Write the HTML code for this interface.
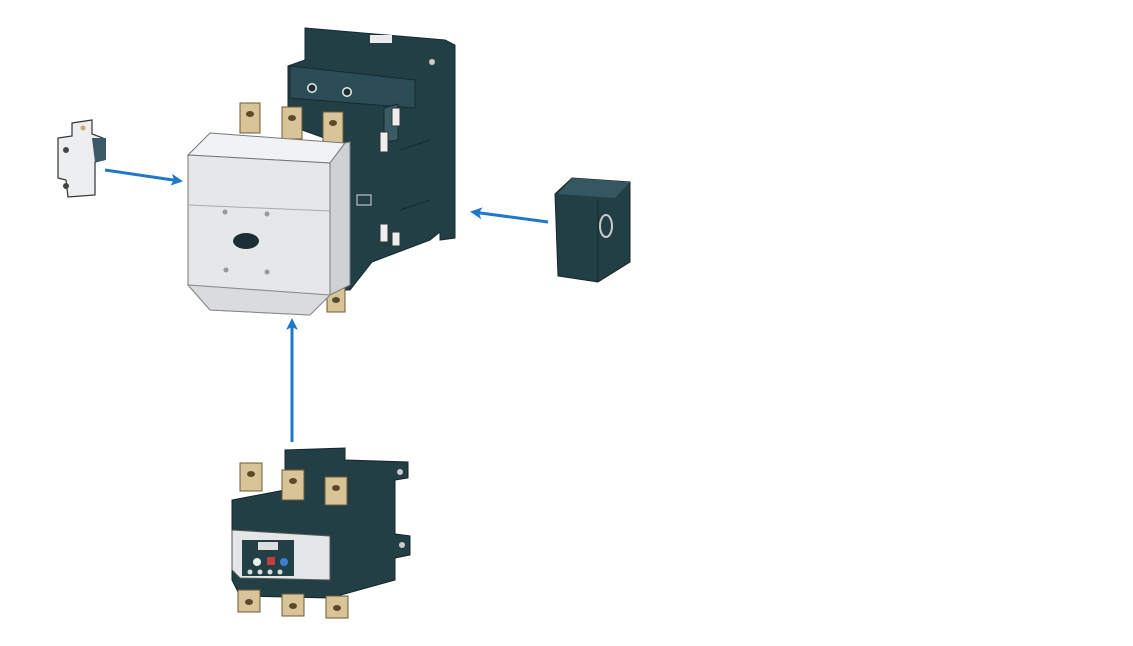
<!DOCTYPE html>
<html><head><meta charset="utf-8"><style>
html,body{margin:0;padding:0;background:#fff;width:1133px;height:646px;overflow:hidden}
</style></head><body>
<svg width="1133" height="646" viewBox="0 0 1133 646" xmlns="http://www.w3.org/2000/svg">
<defs>
<marker id="ah" markerWidth="12" markerHeight="12" refX="9" refY="6" orient="auto" markerUnits="userSpaceOnUse">
<path d="M0,0 L12,6 L0,12 L3,6 Z" fill="#1f78c8"/>
</marker>
</defs>
<polygon points="72,123 92,120 92,134 103,138 103,160 95,162 95,195 68,197 66,180 58,178 58,138 72,136" fill="#eceef0" stroke="#333" stroke-width="1.2"/>
<polygon points="92,138 106,138 106,160 95,162" fill="#3a5a68"/>
<circle cx="83" cy="128" r="2.5" fill="#c8a870"/>
<circle cx="66" cy="150" r="3" fill="#444"/>
<circle cx="66" cy="186" r="3" fill="#444"/>
<line x1="105" y1="170" x2="180" y2="181" stroke="#1f78c8" stroke-width="3" marker-end="url(#ah)"/>
<line x1="548" y1="222" x2="473" y2="212" stroke="#1f78c8" stroke-width="3" marker-end="url(#ah)"/>
<line x1="292" y1="442" x2="292" y2="321" stroke="#1f78c8" stroke-width="3" marker-end="url(#ah)"/>
<polygon points="305,28 445,40 455,45 455,238 440,240 440,232 430,240 372,262 350,290 330,290 330,140 288,125 288,66 305,60" fill="#223f46" stroke="#152a30" stroke-width="1"/>
<polygon points="290,66 415,80 415,108 290,98" fill="#2c4d55" stroke="#152a30"/>
<rect x="370" y="35" width="22" height="8" fill="#e9ebec"/>
<circle cx="312" cy="88" r="5" fill="#eee"/><circle cx="312" cy="88" r="3.5" fill="#1b3036"/>
<circle cx="347" cy="92" r="5" fill="#eee"/><circle cx="347" cy="92" r="3.5" fill="#1b3036"/>
<circle cx="432" cy="62" r="3" fill="#ccc"/>
<polygon points="384,108 398,104 398,140 384,142" fill="#3b5c64" stroke="#152a30"/>
<rect x="392" y="108" width="8" height="18" fill="#eee" stroke="#333"/>
<rect x="380" y="132" width="8" height="20" fill="#eee" stroke="#333"/>
<rect x="380" y="224" width="8" height="18" fill="#eee" stroke="#333"/>
<rect x="392" y="232" width="8" height="14" fill="#eee" stroke="#333"/>
<line x1="400" y1="150" x2="430" y2="140" stroke="#152a30"/>
<line x1="400" y1="210" x2="430" y2="200" stroke="#152a30"/>
<rect x="357" y="195" width="14" height="10" fill="none" stroke="#ddd"/>
<g fill="#d9c497" stroke="#6b5a38" stroke-width="1">
<rect x="240" y="103" width="20" height="30"/>
<rect x="282" y="107" width="20" height="32"/>
<rect x="323" y="112" width="20" height="32"/>
<rect x="327" y="288" width="18" height="24"/>
</g>
<g fill="#5a4a2a"><ellipse cx="250" cy="114" rx="4" ry="3"/><ellipse cx="292" cy="118" rx="4" ry="3"/><ellipse cx="333" cy="123" rx="4" ry="3"/><ellipse cx="336" cy="300" rx="4" ry="3"/></g>
<polygon points="210,133 345,143 330,163 188,155" fill="#f1f2f3" stroke="#777"/>
<polygon points="188,155 330,163 330,295 310,315 210,310 188,285" fill="#e6e7e9" stroke="#777"/>
<polygon points="330,163 345,143 350,142 350,285 330,295" fill="#cfd2d5" stroke="#777"/>
<line x1="188" y1="205" x2="330" y2="211" stroke="#aaa"/>
<line x1="188" y1="285" x2="330" y2="295" stroke="#aaa"/>
<polygon points="188,285 330,295 310,315 210,310" fill="#d9dbde" stroke="#888"/>
<ellipse cx="246" cy="241" rx="13" ry="8" fill="#1b2e36"/>
<g fill="#999"><circle cx="225" cy="212" r="2.5"/><circle cx="267" cy="214" r="2.5"/><circle cx="226" cy="270" r="2.5"/><circle cx="267" cy="272" r="2.5"/></g>
<polygon points="555,194 572,178 630,182 630,262 598,282 558,276" fill="#223f46" stroke="#142428"/>
<polygon points="572,178 630,182 615,198 558,194" fill="#355860"/>
<line x1="598" y1="200" x2="598" y2="282" stroke="#142428"/>
<ellipse cx="606" cy="226" rx="6" ry="11" fill="none" stroke="#ccc" stroke-width="2"/>
<polygon points="285,450 345,448 345,460 408,462 408,478 395,480 395,534 410,536 410,555 395,558 395,580 330,598 240,596 232,580 232,500 285,490" fill="#223f46" stroke="#142428"/>
<polygon points="232,530 330,536 330,580 240,578 232,570" fill="#e4e6e8" stroke="#555"/>
<rect x="242" y="540" width="52" height="36" fill="#223f46"/>
<rect x="258" y="542" width="20" height="8" fill="#ddd"/>
<circle cx="257" cy="562" r="4" fill="#eee"/><rect x="267" y="557" width="8" height="8" fill="#c04040"/><circle cx="284" cy="562" r="4" fill="#3a7fd0"/>
<g fill="#ddd"><circle cx="250" cy="572" r="2.5"/><circle cx="260" cy="572" r="2.5"/><circle cx="270" cy="572" r="2.5"/><circle cx="280" cy="572" r="2.5"/></g>
<g fill="#d9c497" stroke="#6b5a38" stroke-width="1">
<rect x="240" y="463" width="22" height="28"/>
<rect x="282" y="470" width="22" height="30"/>
<rect x="325" y="477" width="22" height="28"/>
<rect x="238" y="590" width="22" height="22"/>
<rect x="282" y="594" width="22" height="22"/>
<rect x="326" y="596" width="22" height="22"/>
</g>
<g fill="#5a4a2a"><ellipse cx="251" cy="474" rx="4" ry="3"/><ellipse cx="293" cy="481" rx="4" ry="3"/><ellipse cx="336" cy="488" rx="4" ry="3"/><ellipse cx="249" cy="602" rx="4" ry="3"/><ellipse cx="293" cy="606" rx="4" ry="3"/><ellipse cx="337" cy="608" rx="4" ry="3"/></g>
<circle cx="400" cy="472" r="3" fill="#ccc"/><circle cx="402" cy="545" r="3" fill="#ccc"/>
</svg>
</body></html>
